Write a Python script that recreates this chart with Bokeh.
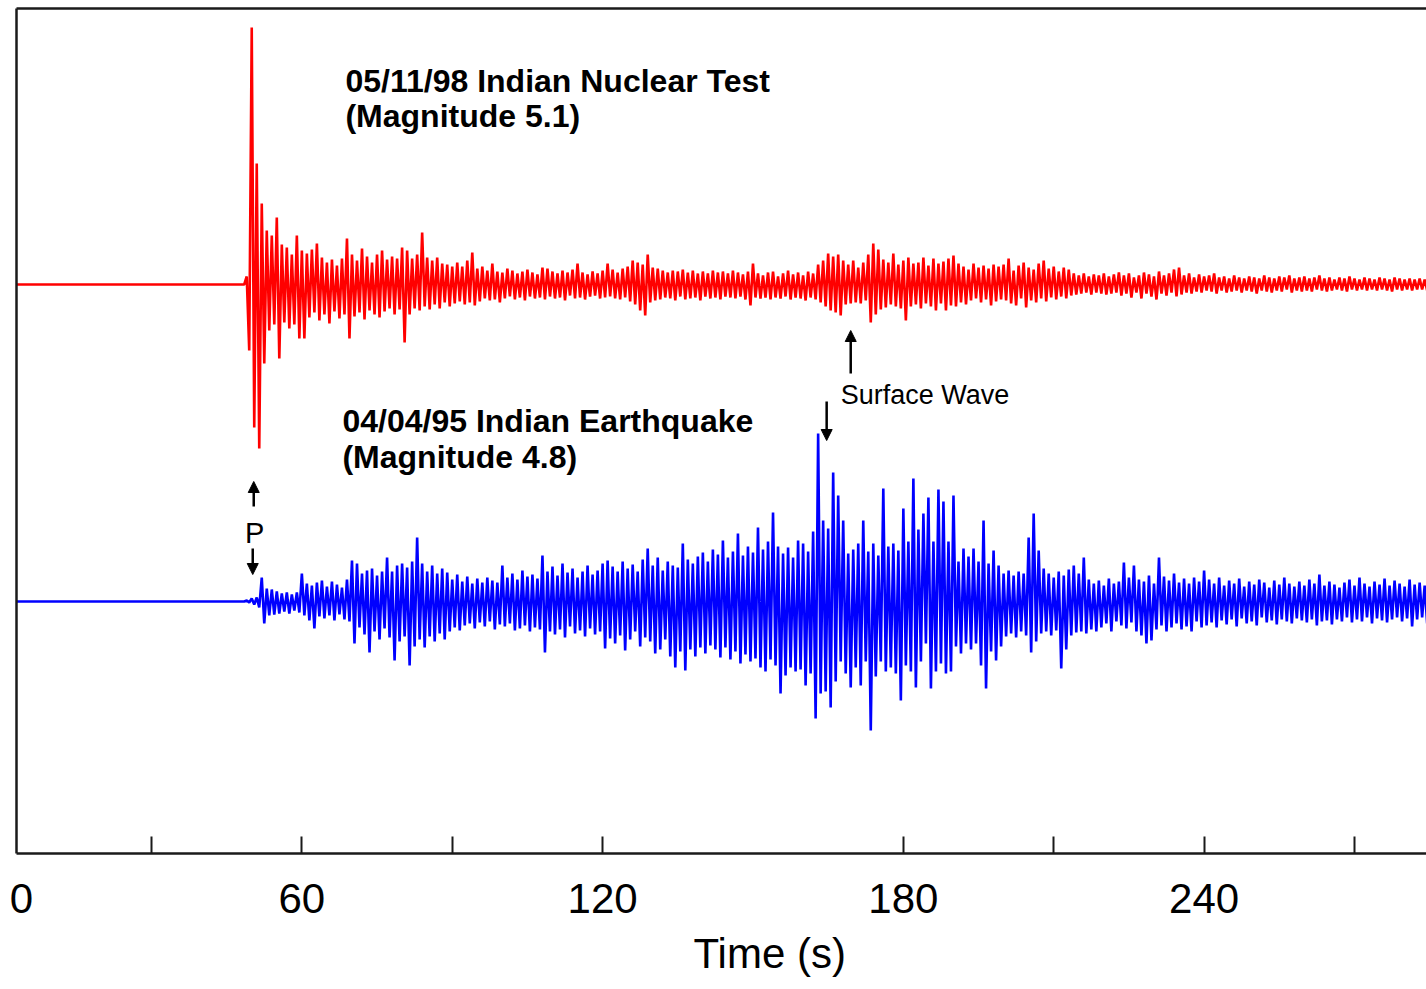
from bokeh.plotting import figure
from bokeh.models import Range1d, FixedTicker, LinearAxis, Label, Arrow, NormalHead, Title
from bokeh.embed import file_html
from bokeh.resources import INLINE

# ---------------- data ----------------
# time axis (s)
x_start_s = 3.07
x_end_s = 284.37
tick_labels = {4.07: "0", 60: "60", 120: "120", 180: "180", 240: "240"}
tick_marks = [30, 60, 90, 120, 180, 210, 240, 270]

# trace baselines (amplitude units)
red_offset = 569
blue_offset = 252

# Nuclear test trace: one peak (at t) and one trough (at t+0.5) per second, from t0
red_t0 = 49
red_peaks = [
    8, 257, 121, 81, 54, 49, 67, 40, 37, 30,
    49, 34, 31, 35, 41, 27, 22, 25, 19, 26,
    46, 30, 24, 36, 28, 22, 30, 34, 25, 28,
    26, 37, 34, 26, 30, 52, 27, 24, 27, 21,
    20, 18, 22, 18, 24, 32, 16, 18, 14, 21,
    13, 12, 16, 14, 11, 13, 15, 12, 10, 17,
    16, 13, 11, 14, 12, 15, 21, 12, 10, 13,
    11, 14, 21, 15, 12, 16, 18, 24, 22, 20,
    30, 17, 16, 14, 12, 14, 13, 15, 12, 14,
    11, 13, 11, 14, 12, 13, 11, 14, 12, 10,
    13, 21, 11, 9, 12, 13, 8, 11, 14, 10,
    12, 9, 13, 11, 20, 24, 31, 28, 30, 24,
    20, 24, 17, 22, 30, 41, 35, 25, 22, 31,
    20, 24, 27, 21, 22, 27, 19, 26, 21, 23,
    26, 29, 21, 18, 15, 21, 17, 19, 16, 20,
    18, 20, 26, 14, 19, 22, 17, 15, 21, 24,
    16, 18, 13, 17, 15, 11, 9, 11, 8, 10,
    9, 11, 8, 10, 12, 9, 11, 7, 9, 12,
    10, 8, 13, 9, 11, 15, 17, 9, 11, 7,
    10, 8, 9, 11, 7, 8, 6, 9, 7, 6,
    8, 7, 6, 9, 7, 6, 8, 7, 9, 6,
    7, 8, 6, 7, 9, 6, 7, 5, 7, 6,
    8, 6, 5, 7, 6, 5, 7, 6, 5, 7,
    6, 5, 6, 5, 6, 5,
]
red_troughs = [
    -66, -143, -164, -79, -46, -40, -74, -38, -44, -40,
    -54, -54, -33, -28, -36, -30, -39, -27, -34, -30,
    -54, -32, -28, -35, -26, -30, -33, -27, -24, -30,
    -25, -58, -30, -24, -26, -22, -25, -20, -24, -18,
    -22, -19, -17, -20, -18, -21, -17, -14, -16, -15,
    -18, -14, -12, -15, -13, -16, -12, -14, -13, -15,
    -12, -14, -13, -16, -11, -14, -13, -15, -12, -11,
    -14, -13, -12, -14, -15, -13, -17, -20, -26, -31,
    -18, -16, -15, -13, -14, -16, -12, -15, -14, -13,
    -16, -12, -14, -13, -15, -12, -13, -14, -12, -15,
    -21, -13, -14, -13, -15, -13, -14, -12, -15, -13,
    -14, -16, -13, -15, -18, -22, -26, -28, -31, -20,
    -19, -18, -19, -16, -38, -30, -25, -23, -20, -22,
    -24, -36, -22, -20, -24, -19, -22, -26, -19, -26,
    -21, -22, -18, -20, -16, -14, -18, -15, -21, -17,
    -15, -16, -19, -21, -14, -23, -16, -18, -14, -17,
    -13, -15, -12, -14, -11, -10, -9, -8, -10, -8,
    -9, -10, -9, -8, -11, -9, -13, -8, -14, -9,
    -12, -15, -9, -11, -8, -12, -10, -8, -9, -7,
    -8, -6, -7, -9, -6, -8, -7, -6, -8, -6,
    -7, -9, -6, -7, -8, -6, -7, -5, -8, -6,
    -7, -6, -7, -5, -6, -7, -6, -5, -6, -7,
    -5, -6, -5, -6, -5, -6, -5, -6, -7, -5,
    -6, -5, -6, -5, -5, -6,
]

# Earthquake trace
blue_t0 = 49
blue_peaks = [
    1, 3, 4, 24, 13, 12, 10, 8, 9, 7,
    9, 28, 18, 16, 19, 21, 15, 20, 17, 14,
    22, 41, 38, 28, 31, 33, 26, 30, 44, 30,
    36, 38, 34, 40, 64, 38, 30, 36, 28, 33,
    29, 22, 27, 20, 25, 18, 23, 19, 24, 21,
    19, 36, 24, 28, 22, 31, 25, 27, 23, 46,
    30, 35, 26, 38, 29, 33, 24, 30, 36, 27,
    31, 38, 41, 35, 30, 40, 33, 37, 30, 42,
    53, 36, 44, 31, 40, 36, 34, 58, 42, 38,
    45, 49, 40, 52, 47, 61, 44, 50, 68, 46,
    55, 49, 74, 52, 60, 89, 55, 48, 54, 44,
    61, 58, 50, 70, 168, 81, 73, 129, 106, 81,
    48, 52, 58, 81, 50, 58, 46, 113, 55, 58,
    51, 93, 60, 123, 72, 88, 104, 60, 112, 100,
    60, 106, 40, 53, 45, 53, 40, 81, 38, 51,
    36, 28, 31, 26, 30, 28, 64, 88, 51, 33,
    28, 24, 30, 26, 32, 36, 28, 44, 22, 18,
    21, 16, 23, 18, 20, 39, 24, 36, 22, 20,
    26, 18, 44, 25, 21, 28, 19, 23, 18, 24,
    20, 31, 22, 18, 24, 16, 21, 18, 23, 15,
    20, 17, 22, 19, 14, 21, 17, 24, 18, 15,
    20, 16, 22, 18, 27, 16, 20, 17, 14, 19,
    22, 16, 24, 18, 15, 20, 17, 23, 16, 21,
    18, 15, 22, 17, 19, 16,
]
blue_troughs = [
    -1, -3, -6, -22, -14, -13, -12, -10, -12, -9,
    -11, -14, -19, -27, -15, -17, -14, -19, -13, -18,
    -20, -42, -26, -33, -51, -30, -38, -27, -36, -59,
    -40, -35, -64, -45, -38, -46, -35, -40, -32, -38,
    -30, -26, -29, -24, -22, -27, -21, -25, -20, -28,
    -23, -25, -22, -29, -27, -24, -30, -26, -28, -51,
    -30, -33, -28, -36, -25, -32, -29, -35, -27, -33,
    -30, -47, -37, -42, -34, -49, -38, -30, -45, -36,
    -40, -52, -48, -38, -55, -66, -50, -69, -48, -55,
    -46, -52, -44, -48, -56, -46, -58, -50, -62, -53,
    -60, -57, -66, -70, -58, -64, -92, -74, -66, -70,
    -68, -84, -72, -117, -92, -90, -106, -80, -60, -72,
    -86, -66, -84, -60, -129, -75, -60, -70, -66, -72,
    -99, -64, -70, -86, -60, -42, -87, -70, -62, -72,
    -70, -45, -52, -42, -48, -42, -64, -87, -50, -59,
    -45, -35, -32, -36, -30, -34, -51, -40, -32, -30,
    -34, -29, -67, -48, -34, -31, -30, -32, -28, -30,
    -26, -22, -30, -20, -24, -27, -21, -30, -34, -42,
    -39, -28, -24, -30, -26, -22, -28, -25, -30, -20,
    -26, -24, -21, -26, -19, -23, -18, -25, -17, -22,
    -20, -24, -16, -21, -19, -23, -18, -20, -22, -17,
    -19, -21, -18, -24, -20, -19, -23, -18, -20, -16,
    -21, -18, -20, -16, -22, -17, -19, -21, -18, -16,
    -20, -17, -25, -18, -16, -22,
]

# annotation texts
red_title = ["05/11/98 Indian Nuclear Test", "(Magnitude 5.1)"]
blue_title = ["04/04/95 Indian Earthquake", "(Magnitude 4.8)"]
x_label = "Time (s)"


def build_trace(t0, peaks, troughs, offset):
    xs = [x_start_s, t0 - 0.5]
    ys = [offset, offset]
    for i, (a, b) in enumerate(zip(peaks, troughs)):
        xs += [t0 + i, t0 + i + 0.5]
        ys += [offset + a, offset + b]
    return xs, ys


p = figure(width=1426, height=989,
           x_range=Range1d(x_start_s, x_end_s), y_range=Range1d(0, 845),
           output_backend="svg", toolbar_location=None,
           min_border_left=16, min_border_right=0, min_border_top=8,
           min_border_bottom=136)
p.outline_line_color = None
p.xgrid.visible = False
p.ygrid.visible = False
p.background_fill_color = "white"
p.border_fill_color = "white"

AXIS_COLOR = "#1a1a1a"
FONT = "Liberation Sans"

# bottom axis
xa = p.xaxis[0]
xa.ticker = FixedTicker(ticks=list(tick_labels.keys()), minor_ticks=tick_marks)
xa.major_label_overrides = tick_labels
xa.major_tick_in = 0
xa.major_tick_out = 0
xa.minor_tick_in = 17
xa.minor_tick_out = 0
xa.minor_tick_line_width = 2
xa.minor_tick_line_color = AXIS_COLOR
xa.axis_line_width = 2.5
xa.axis_line_color = AXIS_COLOR
xa.major_label_text_font = FONT
xa.major_label_text_font_size = "42px"
xa.major_label_text_color = "black"
xa.major_label_standoff = 30

# axis title, placed below the tick labels and shifted right as in the reference
p.add_layout(Title(text=x_label, text_font=FONT, text_font_size="42px",
                   text_font_style="normal", text_color="black",
                   align="left", offset=677, standoff=24), "below")

# left & top border lines (axes without ticks or labels)
p.yaxis[0].ticker = FixedTicker(ticks=[])
p.add_layout(LinearAxis(ticker=FixedTicker(ticks=[])), "above")
for ax in list(p.yaxis) + list(p.above):
    if not isinstance(ax, LinearAxis):
        continue
    ax.major_tick_in = 0
    ax.major_tick_out = 0
    ax.minor_tick_in = 0
    ax.minor_tick_out = 0
    ax.major_label_standoff = 0
    ax.major_label_text_font_size = "0px"
    ax.axis_line_width = 2.5
    ax.axis_line_color = AXIS_COLOR

# traces
rx, ry = build_trace(red_t0, red_peaks, red_troughs, red_offset)
bx, by = build_trace(blue_t0, blue_peaks, blue_troughs, blue_offset)
p.line(rx, ry, line_color="#ff0000", line_width=2.6)
p.line(bx, by, line_color="#0000ff", line_width=2.6)

# titles
for (txt, x, y) in [(red_title[0], 68.7, 773), (red_title[1], 68.7, 738),
                    (blue_title[0], 68.1, 433), (blue_title[1], 68.1, 397)]:
    p.add_layout(Label(x=x, y=y, text=txt, text_font=FONT, text_font_size="32px",
                       text_font_style="bold", text_color="black",
                       text_align="left", text_baseline="alphabetic"))

p.add_layout(Label(x=167.5, y=459, text="Surface Wave", text_font=FONT,
                   text_font_size="27px", text_color="black",
                   text_align="left", text_baseline="alphabetic"))
p.add_layout(Label(x=50.6, y=321, text="P", text_font=FONT,
                   text_font_size="29px", text_color="black",
                   text_align="center", text_baseline="alphabetic"))

# arrows
for (x0, y0, x1, y1) in [(50.4, 347, 50.4, 372), (50.2, 305, 50.2, 279),
                         (169.5, 480, 169.5, 523), (164.7, 452, 164.7, 413)]:
    p.add_layout(Arrow(x_start=x0, y_start=y0, x_end=x1, y_end=y1,
                       line_width=2.5, line_color="black",
                       end=NormalHead(size=11, fill_color="black",
                                      line_color="black")))

open("out.html", "w").write(file_html(p, INLINE))
